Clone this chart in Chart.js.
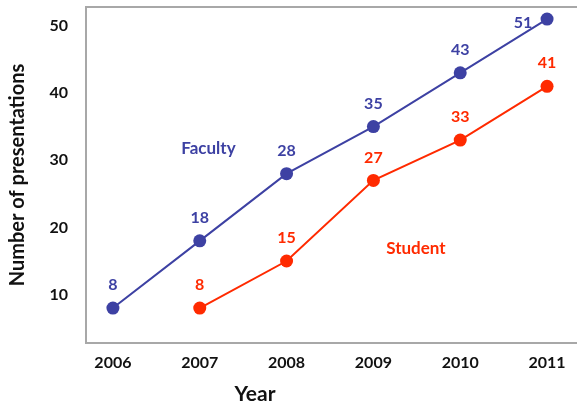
<!DOCTYPE html>
<html>
<head>
<meta charset="utf-8">
<script src="https://cdn.jsdelivr.net/npm/chart.js@4.4.1/dist/chart.umd.min.js"></script>
<style>
  html, body { margin: 0; padding: 0; background: #fff; overflow: hidden; }
  #wrap { width: 577px; height: 406px; }
</style>
</head>
<body>
<div id="wrap"><canvas id="chart" width="577" height="406"></canvas></div>
<script>
// data
const years = [2006, 2007, 2008, 2009, 2010, 2011];
const faculty = [8, 18, 28, 35, 43, 51];
const student = [null, 8, 15, 27, 33, 41];
const yTicks = [10, 20, 30, 40, 50];

const BLUE = "#3d41a3";
const RED = "#ff2a00";
const FONT = "Lato";

const toPoints = arr => years.map((y, i) => ({ x: y, y: arr[i] })).filter(p => p.y !== null);

// frame round the plot (left, top, bottom; right side runs off the page)
const framePlugin = {
  id: "frame",
  beforeDatasetsDraw(chart) {
    const { ctx, chartArea: a } = chart;
    ctx.save();
    ctx.strokeStyle = "#a8a8a8";
    ctx.lineWidth = 2;
    ctx.beginPath();
    ctx.moveTo(chart.width + 5, a.top);
    ctx.lineTo(a.left, a.top);
    ctx.lineTo(a.left, a.bottom);
    ctx.lineTo(chart.width + 5, a.bottom);
    ctx.stroke();
    ctx.restore();
  }
};

// value labels, series names and the "Year" title
const labelPlugin = {
  id: "labels",
  afterDatasetsDraw(chart) {
    const { ctx, scales } = chart;
    ctx.save();
    ctx.textAlign = "center";
    ctx.textBaseline = "middle";
    chart.data.datasets.forEach((ds, di) => {
      const meta = chart.getDatasetMeta(di);
      ctx.fillStyle = ds.borderColor;
      ctx.font = "bold 16px " + FONT;
      meta.data.forEach((pt, i) => {
        const v = ds.data[i].y;
        const side = (ds.labelSide || [])[i];
        if (side === "left") ctx.fillText(String(v), pt.x - 24, pt.y + 4);
        else ctx.fillText(String(v), pt.x, pt.y - 23);
      });
      // series name
      ctx.font = "bold 17px " + FONT;
      const nx = scales.x.getPixelForValue(ds.nameAt[0]);
      const ny = scales.y.getPixelForValue(ds.nameAt[1]);
      ctx.fillText(ds.label, nx, ny);
    });
    ctx.fillStyle = "#111";
    ctx.font = "bold 21px " + FONT;
    ctx.fillText("Year", chart.chartArea.left + 169, 394);
    ctx.restore();
  }
};

new Chart(document.getElementById("chart"), {
  type: "line",
  data: {
    datasets: [
      {
        label: "Faculty",
        data: toPoints(faculty),
        borderColor: BLUE,
        backgroundColor: BLUE,
        borderWidth: 2,
        pointRadius: 6.5,
        pointBorderWidth: 0,
        labelSide: [null, null, null, null, null, "left"],
        nameAt: [2007.1, 31.8]
      },
      {
        label: "Student",
        data: toPoints(student),
        borderColor: RED,
        backgroundColor: RED,
        borderWidth: 2,
        pointRadius: 6.5,
        pointBorderWidth: 0,
        nameAt: [2009.49, 16.8]
      }
    ]
  },
  options: {
    responsive: false,
    animation: false,
    clip: false,
    layout: { padding: { top: 7, right: 0, left: 0, bottom: 0 } },
    plugins: { legend: { display: false }, tooltip: { enabled: false } },
    scales: {
      x: {
        type: "linear",
        min: 2005.69,
        max: 2011.27,
        afterBuildTicks: s => { s.ticks = years.map(v => ({ value: v })); },
        afterFit: s => { s.height = 63; s.paddingLeft = 0; s.paddingRight = 0; },
        grid: { display: false, drawTicks: false },
        border: { display: false },
        ticks: {
          padding: 10,
          color: "#111",
          font: { family: FONT, size: 16, weight: "bold" },
          callback: v => String(v)
        }
      },
      y: {
        min: 2.8,
        max: 52.8,
        afterBuildTicks: s => { s.ticks = yTicks.map(v => ({ value: v })); },
        afterFit: s => { s.width = 86; s.paddingTop = 0; s.paddingBottom = 0; },
        grid: { display: false, drawTicks: false },
        border: { display: false },
        ticks: {
          padding: 18,
          color: "#111",
          font: { family: FONT, size: 16, weight: "bold" }
        },
        title: {
          display: true,
          text: "Number of presentations",
          color: "#111",
          padding: { top: 6, bottom: 0 },
          font: { family: FONT, size: 20, weight: "bold" }
        }
      }
    }
  },
  plugins: [framePlugin, labelPlugin]
});
</script>
</body>
</html>
